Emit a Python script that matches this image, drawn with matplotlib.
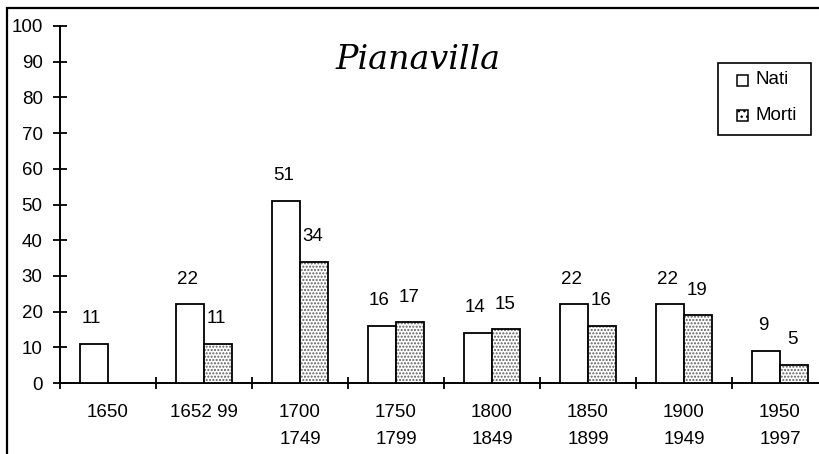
import matplotlib.pyplot as plt
import numpy as np
from matplotlib.patches import Rectangle

periods = ["1650", "1652 99", "1700\n1749", "1750\n1799", "1800\n1849",
           "1850\n1899", "1900\n1949", "1950\n1997"]
nati = [11, 22, 51, 16, 14, 22, 22, 9]
morti = [None, 11, 34, 17, 15, 16, 19, 5]

plt.rcParams['font.family'] = ['Liberation Sans', 'DejaVu Sans']
FS = 13.5

W, H = 820, 454
fig = plt.figure(figsize=(W / 100, H / 100), dpi=100)


def fx(px):
    return px / W


def fy(py):
    return 1 - py / H


# outer chart frame (left and top edges visible)
fig.add_artist(Rectangle((fx(7), -0.1), 1.2, fy(8) + 0.1, transform=fig.transFigure,
                         fill=False, edgecolor='black', linewidth=1.6))

ax = fig.add_axes([fx(60), fy(383), 768 / W, (383 - 26) / H])

x = np.arange(len(periods)) + 0.5
bw = 28 / 96

ax.bar(x - bw / 2, nati, width=bw, color='white', edgecolor='black', linewidth=1.3,
       zorder=3)

mx = [xi + bw / 2 for xi, v in zip(x, morti) if v is not None]
mv = [v for v in morti if v is not None]
ax.bar(mx, mv, width=bw, color='white', edgecolor='#5e5e5e', hatch='.....',
       linewidth=0, zorder=3)
ax.bar(mx, mv, width=bw, color='none', edgecolor='black', linewidth=1.3, zorder=4)

# value labels
for xi, v in zip(x, nati):
    ax.annotate(str(v), (xi - bw / 2, v), xytext=(-2, 12), textcoords='offset points',
                ha='center', va='bottom', fontsize=FS)
for xi, v in zip(x, morti):
    if v is None:
        continue
    ax.annotate(str(v), (xi + bw / 2, v), xytext=(-1, 12),
                textcoords='offset points', ha='center', va='bottom', fontsize=FS)

ax.set_xlim(0, len(periods))
ax.set_ylim(0, 100)
ax.set_yticks(range(0, 101, 10))
ax.set_xticks(np.arange(len(periods) + 1))
ax.set_xticklabels([])
ax.set_xticks(x, minor=True)
ax.set_xticklabels(periods, minor=True, linespacing=1.75, va='top')
ax.tick_params(axis='x', which='minor', length=0, pad=15, labelsize=FS)
ax.tick_params(axis='x', which='major', direction='inout', length=9, width=1.3)
ax.tick_params(axis='y', direction='inout', length=10, width=1.3, labelsize=FS, pad=7.5)

for side in ('top', 'right'):
    ax.spines[side].set_visible(False)
for side in ('left', 'bottom'):
    ax.spines[side].set_linewidth(1.4)

fig.text(fx(418), fy(60), 'Pianavilla', ha='center', va='center', fontsize=24,
         style='italic', family='DejaVu Serif')

# legend box
fig.add_artist(Rectangle((fx(718), fy(135)), fx(811) - fx(718), fy(63) - fy(135),
                         transform=fig.transFigure, fill=False, edgecolor='black',
                         linewidth=1.2))
fig.add_artist(Rectangle((fx(737), fy(86)), 11 / W, 11 / H, transform=fig.transFigure,
                         facecolor='white', edgecolor='black', linewidth=1.1))
fig.add_artist(Rectangle((fx(737), fy(121)), 11 / W, 11 / H, transform=fig.transFigure,
                         facecolor='white', edgecolor='black', linewidth=1.1, hatch='...'))
fig.text(fx(756), fy(80), 'Nati', ha='left', va='center', fontsize=FS)
fig.text(fx(756), fy(116), 'Morti', ha='left', va='center', fontsize=FS)

fig.savefig('out.png', dpi=100)
